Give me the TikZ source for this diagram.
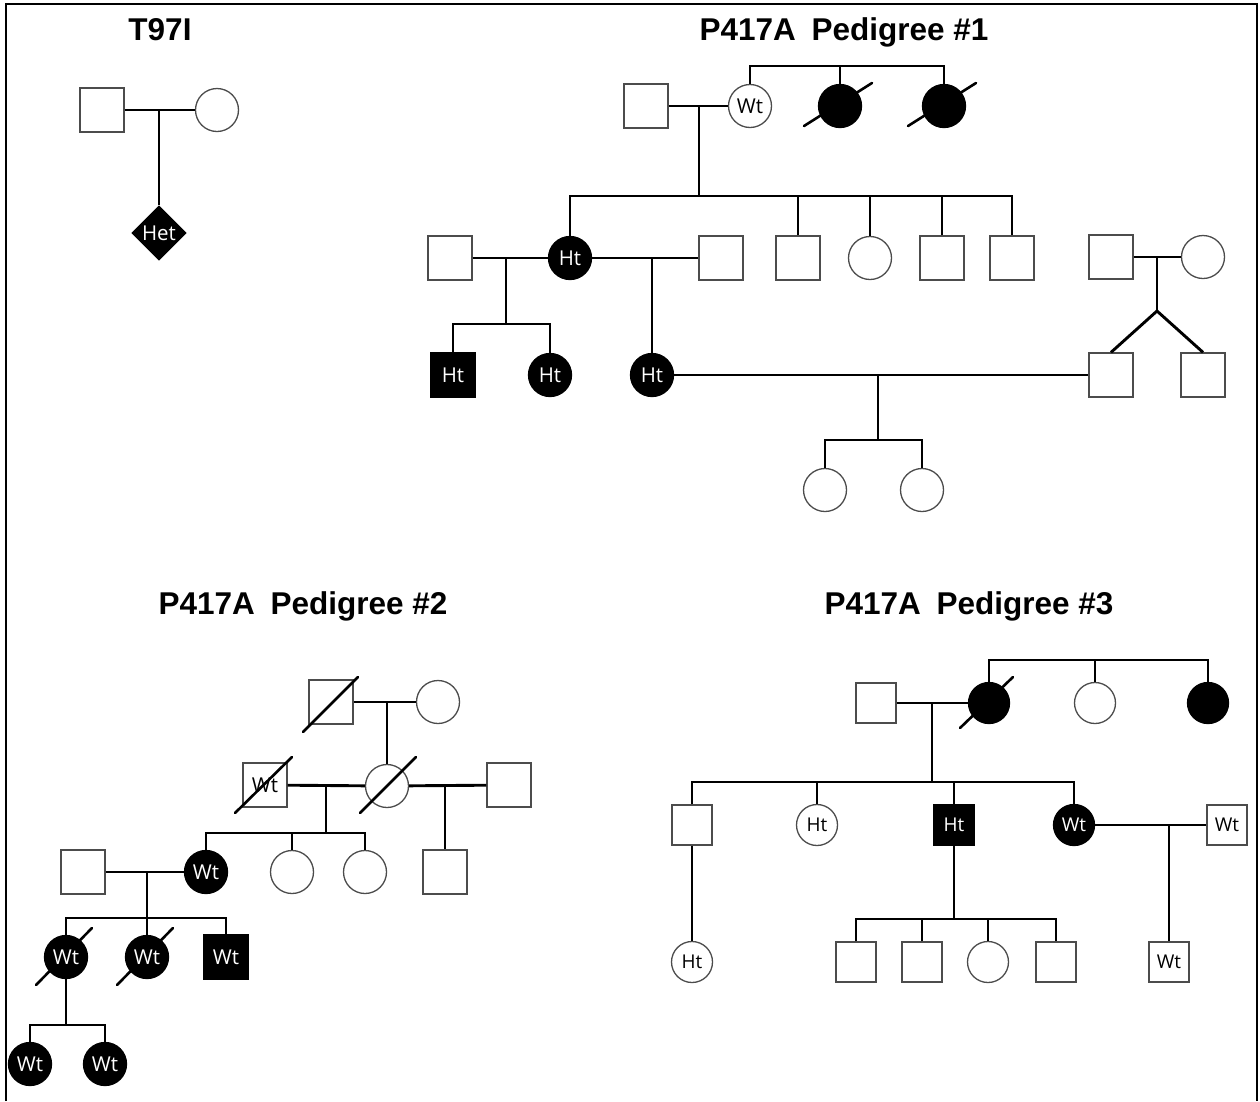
\documentclass[tikz,border=0pt]{standalone}
\usepackage{fontspec}
\setmainfont{Open Sans}
\newfontfamily\titlefont{Liberation Sans}
\usetikzlibrary{shapes.geometric}
\pgfdeclarelayer{bg}
\pgfsetlayers{bg,main}
\begin{document}
\begin{tikzpicture}[x=1pt,y=-1pt,
  sym/.style={draw=black!70, line width=1.3pt, inner sep=0pt, font=\fontsize{20.5}{20.5}\selectfont},
  male/.style={sym, rectangle, minimum size=44pt},
  fem/.style={sym, circle, minimum size=43pt},
  malec/.style={sym, rectangle, minimum size=40pt, font=\fontsize{19}{19}\selectfont},
  femc/.style={sym, circle, minimum size=41pt, font=\fontsize{19}{19}\selectfont},
  aff/.style={fill=black, text=white, draw=black},
  link/.style={line width=2.9pt, black},
  slash/.style={line width=2.6pt, black, line cap=round},
  ttl/.style={font=\titlefont\bfseries\fontsize{31.5}{31.5}\selectfont}]

\useasboundingbox (0,0) rectangle (1260,1101);
\begin{pgfonlayer}{bg}
\fill[white] (0,0) rectangle (1260,1101);
\end{pgfonlayer}
\draw[line width=2pt] (6,1101) -- (6,4) -- (1257,4) -- (1257,1101);

% ---------- T97I ----------
\node[ttl] (t1) at (160,30) {T97I};
\node[male] (a1) at (102,110) {};
\node[fem] (a2) at (217,110) {};
\node[sym, diamond, aff, minimum width=54pt, minimum height=54pt, aspect=1] (a3) at (159,233) {Het};
\coordinate (a12) at (159,110);
\draw[link] (a1) -- (a2);
\draw[link] (a12) -- (a3);

% ---------- Pedigree #1 ----------
\node[ttl] (t2) at (844,32) {P417A\enspace Pedigree \#1};
\node[male] (b1) at (646,106) {};
\node[fem] (b2) at (750,106) {Wt};
\node[fem, aff] (b3) at (840,106) {};
\node[fem, aff] (b4) at (944,106) {};
\coordinate (s1) at (840,66);
\draw[link] (b2.north) |- (b4.north |- s1) -- (b4.north);
\draw[link] (s1) -- (b3.north);
\begin{pgfonlayer}{bg}
\draw[slash] (b3.center) ++(-36,20) -- ++(68,-43);
\draw[slash] (b4.center) ++(-36,20) -- ++(68,-43);
\end{pgfonlayer}
\draw[link] (b1) -- (b2);
\coordinate (m1) at (699,106);
\coordinate (c0) at (699,196);
\draw[link] (m1) -- (c0);

\node[fem, aff] (c1) at (570,258) {Ht};
\node[male] (c3) at (798,258) {};
\node[fem] (c4) at (870,258) {};
\node[male] (c5) at (942,258) {};
\node[male] (c6) at (1012,258) {};
\draw[link] (c1.north) |- (c6.north |- c0) -- (c6.north);
\foreach \n in {c3,c4,c5} \draw[link] (\n.north) -- (\n.north |- c0);

\node[male] (c2) at (450,258) {};
\node[male] (c7) at (721,258) {};
\draw[link] (c2) -- (c1);
\coordinate (m2) at (506,258);
\coordinate (s2) at (506,324);
\draw[link] (m2) -- (s2);
\node[male, aff] (d1) at (453,375) {Ht};
\node[fem, aff] (d2) at (550,375) {Ht};
\draw[link] (d1.north) |- (d2.north |- s2) -- (d2.north);
\draw[link] (c1) -- (c7);
\coordinate (m3) at (652,258);
\node[fem, aff] (d3) at (652,375) {Ht};
\draw[link] (m3) -- (d3);

\node[male] (c8) at (1111,257) {};
\node[fem] (c9) at (1203,257) {};
\draw[link] (c8) -- (c9);
\coordinate (m4) at (1157,257);
\coordinate (tw) at (1157,311);
\node[male] (d4) at (1111,375) {};
\node[male] (d5) at (1203,375) {};
\draw[link] (m4) -- (tw);
\draw[link] (tw) -- (d4.north);
\draw[link] (tw) -- (d5.north);

\draw[link] (d3) -- (d4);
\coordinate (m5) at (878,375);
\coordinate (s3) at (878,440);
\draw[link] (m5) -- (s3);
\node[fem] (e1) at (825,490) {};
\node[fem] (e2) at (922,490) {};
\draw[link] (e1.north) |- (e2.north |- s3) -- (e2.north);

% ---------- Pedigree #2 ----------
\node[ttl] (t3) at (303,606) {P417A\enspace Pedigree \#2};
\node[male] (f1) at (331,702) {};
\node[fem] (f2) at (438,702) {};
\draw[link] (f1) -- (f2);
\draw[slash] (f1.center) ++(-28,30) -- ++(55,-55);
\coordinate (m6) at (387,702);
\node[fem] (g2) at (387,786) {};
\draw[link] (m6) -- (g2);
\draw[slash] (g2.center) ++(-27,27) -- ++(56,-56);
\node[male] (g1) at (265,785) {Wt};
\draw[slash] (g1.center) ++(-30,28) -- ++(57,-56);
\draw[link] (g1) -- (g2);
\coordinate (m7) at (326,786);
\coordinate (s4) at (326,833);
\draw[link] (m7) -- (s4);
\node[fem, aff] (h1) at (206,872) {Wt};
\node[fem] (h2) at (292,872) {};
\node[fem] (h3) at (365,872) {};
\draw[link] (h1.north) |- (h3.north |- s4) -- (h3.north);
\draw[link] (h2.north) -- (h2.north |- s4);
\node[male] (g3) at (509,785) {};
\draw[link] (g2) -- (g3);
\coordinate (m8) at (445,786);
\node[male] (h4) at (445,872) {};
\draw[link] (m8) -- (h4);

\node[male] (h0) at (83,872) {};
\draw[link] (h0) -- (h1);
\coordinate (m9) at (147,872);
\coordinate (s5) at (147,918);
\node[fem, aff] (i1) at (66,957) {Wt};
\node[fem, aff] (i2) at (147,957) {Wt};
\node[male, aff] (i3) at (226,957) {Wt};
\draw[link] (m9) -- (i2);
\draw[link] (i1.north) |- (i3.north |- s5) -- (i3.north);
\begin{pgfonlayer}{bg}
\draw[slash] (i1.center) ++(-30,28) -- ++(56,-57);
\draw[slash] (i2.center) ++(-30,28) -- ++(56,-57);
\end{pgfonlayer}
\coordinate (s6) at (66,1025);
\draw[link] (i1.south) -- (s6);
\node[fem, aff] (j1) at (30,1064) {Wt};
\node[fem, aff] (j2) at (105,1064) {Wt};
\draw[link] (j1.north) |- (j2.north |- s6) -- (j2.north);

% ---------- Pedigree #3 ----------
\node[ttl] (t4) at (969,606) {P417A\enspace Pedigree \#3};
\node[malec] (k1) at (876,703) {};
\node[femc, aff] (k2) at (989,703) {};
\node[femc] (k3) at (1095,703) {};
\node[femc, aff] (k4) at (1208,703) {};
\coordinate (s7) at (1095,660);
\draw[link] (k2.north) |- (k4.north |- s7) -- (k4.north);
\draw[link] (k3.north) -- (s7);
\begin{pgfonlayer}{bg}
\draw[slash] (k2.center) ++(-29,25) -- ++(53,-51);
\end{pgfonlayer}
\draw[link] (k1) -- (k2);
\coordinate (m10) at (932,703);
\coordinate (s8) at (932,782);
\draw[link] (m10) -- (s8);

\node[malec] (l1) at (692,825) {};
\node[femc] (l2) at (817,825) {Ht};
\node[malec, aff] (l3) at (954,825) {Ht};
\node[femc, aff] (l4) at (1074,825) {Wt};
\draw[link] (l1.north) |- (l4.north |- s8) -- (l4.north);
\draw[link] (l2.north) -- (l2.north |- s8);
\draw[link] (l3.north) -- (l3.north |- s8);
\node[malec] (l5) at (1227,825) {Wt};
\draw[link] (l4) -- (l5);
\coordinate (m11) at (1169,825);
\node[malec] (n5) at (1169,962) {Wt};
\draw[link] (m11) -- (n5);
\node[femc] (n0) at (692,962) {Ht};
\draw[link] (l1) -- (n0);

\coordinate (s9) at (954,919);
\draw[link] (l3.south) -- (s9);
\node[malec] (n1) at (856,962) {};
\node[malec] (n2) at (922,962) {};
\node[femc] (n3) at (988,962) {};
\node[malec] (n4) at (1056,962) {};
\draw[link] (n1.north) |- (n4.north |- s9) -- (n4.north);
\draw[link] (n2.north) -- (n2.north |- s9);
\draw[link] (n3.north) -- (n3.north |- s9);
\end{tikzpicture}
\end{document}
